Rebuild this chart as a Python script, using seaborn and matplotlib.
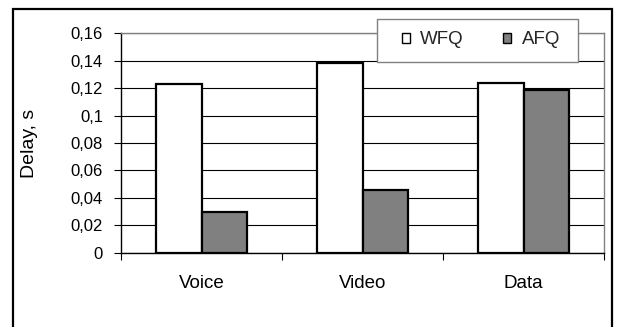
import matplotlib
matplotlib.use("Agg")
import matplotlib.pyplot as plt
from matplotlib.patches import Rectangle, Patch
from matplotlib.ticker import FixedLocator, FuncFormatter
import pandas as pd
import seaborn as sns

# Data
categories = ["Voice", "Video", "Data"]
wfq_delay = [0.123, 0.138, 0.124]
afq_delay = [0.030, 0.046, 0.119]
series_names = ["WFQ", "AFQ"]
y_ticks = [0, 0.02, 0.04, 0.06, 0.08, 0.1, 0.12, 0.14, 0.16]

df = pd.DataFrame({
    "category": categories * 2,
    "series": [series_names[0]] * 3 + [series_names[1]] * 3,
    "delay": wfq_delay + afq_delay,
})

sns.set_theme(style="white")
plt.rcParams["font.family"] = ["Liberation Sans", "DejaVu Sans"]

W, H = 617, 327
fig = plt.figure(figsize=(W / 100, H / 100), dpi=100)
fig.patch.set_facecolor("white")

# outer chart frame (open at the bottom edge)
fig.patches.append(Rectangle((13 / W, -0.2), (612 - 13) / W, 1.2 - 9 / H,
                             transform=fig.transFigure, fill=False,
                             edgecolor="black", linewidth=1.6, zorder=0))

ax = fig.add_axes([121 / W, 1 - 252.7 / H, (604 - 121) / W, (252.7 - 33.3) / H])

palette = {"WFQ": "white", "AFQ": "#808080"}
sns.barplot(data=df, x="category", y="delay", hue="series", order=categories,
            hue_order=series_names, palette=palette, width=0.57, gap=0,
            edgecolor="black", linewidth=1.6, saturation=1, ax=ax, legend=False,
            zorder=3)

ax.set_ylim(0, 0.16)
ax.set_xlim(-0.5, 2.5)
ax.yaxis.set_major_locator(FixedLocator(y_ticks))
ax.yaxis.set_major_formatter(FuncFormatter(lambda v, p: f"{v:g}".replace(".", ",")))
ax.grid(axis="y", color="black", linewidth=0.8, zorder=0)
ax.set_axisbelow(True)

for s in ["top", "right"]:
    ax.spines[s].set_color("#808080")
    ax.spines[s].set_linewidth(1.0)
for s in ["left", "bottom"]:
    ax.spines[s].set_color("black")
    ax.spines[s].set_linewidth(1.0)

ax.tick_params(axis="y", which="major", length=5, width=0.8, color="black",
               direction="out", left=True, pad=8, labelsize=12, labelcolor="black")
ax.tick_params(axis="x", which="major", length=0, pad=16, labelsize=13.5,
               labelcolor="black")
ax.xaxis.set_minor_locator(FixedLocator([-0.5, 0.5, 1.5, 2.5]))
ax.tick_params(axis="x", which="minor", length=5, width=0.8, color="black",
               direction="out", bottom=True)

ax.set_xlabel("")
ax.set_ylabel("Delay, s", fontsize=14, color="black")
ax.yaxis.set_label_coords(-0.172, 0.5)

# legend box drawn separately so its padding can be set per side
lx0, lx1, ly0, ly1 = 377, 578, 19, 62
fig.patches.append(Rectangle((lx0 / W, 1 - ly1 / H), (lx1 - lx0) / W, (ly1 - ly0) / H,
                             transform=fig.transFigure, facecolor="white",
                             edgecolor="#808080", linewidth=1.0, zorder=10))
handles = [Patch(facecolor=palette[n], edgecolor="black", linewidth=1.0) for n in series_names]
leg = fig.legend(handles, series_names, ncol=2, loc="center",
                 bbox_to_anchor=(481 / W, 1 - 40 / H), bbox_transform=fig.transFigure,
                 frameon=False, fontsize=13.5,
                 handlelength=0.43, handleheight=0.43, handletextpad=0.55,
                 columnspacing=2.1, borderpad=0, borderaxespad=0)
leg.set_zorder(11)

fig.savefig("out.png", dpi=100, facecolor="white")
